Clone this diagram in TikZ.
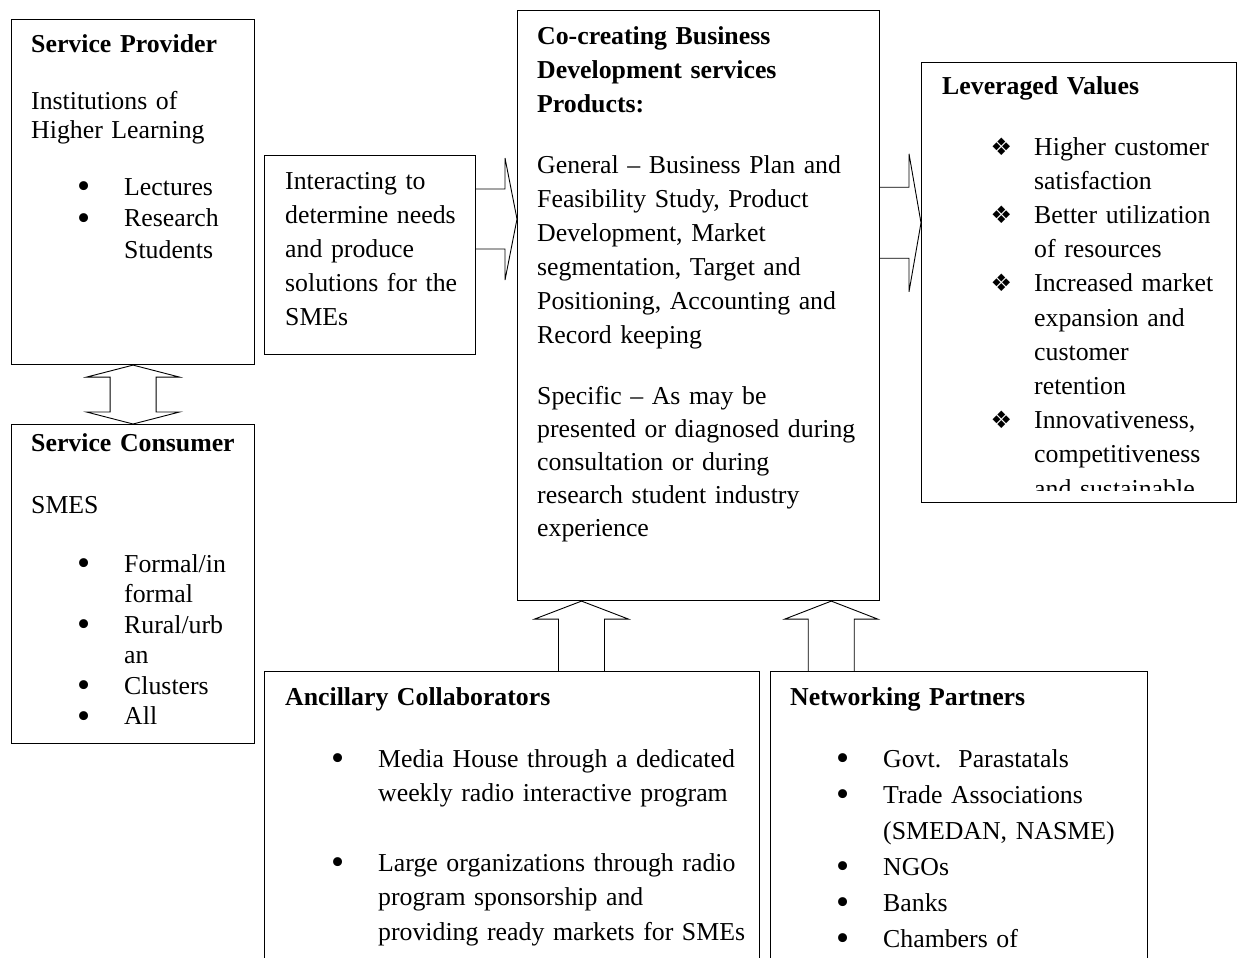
\documentclass[tikz,border=0pt]{standalone}
\usepackage{fontspec}
\setmainfont{Liberation Serif}
\newfontfamily\dingfont{DejaVu Sans}
\usetikzlibrary{calc}

\newcommand{\bul}{\leavevmode\llap{\raisebox{-3.8pt}{\scalebox{1.45}{\textbullet}}\hspace{34pt}}}
\newcommand{\dia}{\leavevmode\llap{{\dingfont\fontsize{24}{24}\selectfont ❖}\hspace{22pt}}}

% open block arrows: start on a box edge, tip on the other box
\newcommand{\blockright}[5]{%
  \draw[blockarrow] let \p1=#1, \p2=#2 in
    (\x1,\y1+#3pt) -- (\x2-#5pt,\y1+#3pt) -- (\x2-#5pt,\y1+#4pt) -- (\x2,\y1)
    -- (\x2-#5pt,\y1-#4pt) -- (\x2-#5pt,\y1-#3pt) -- (\x1,\y1-#3pt);}
\newcommand{\blockup}[5]{%
  \draw[blockarrow] let \p1=#1, \p2=#2 in
    (\x1-#3pt,\y1) -- (\x1-#3pt,\y2-#5pt) -- (\x1-#4pt,\y2-#5pt) -- (\x1,\y2)
    -- (\x1+#4pt,\y2-#5pt) -- (\x1+#3pt,\y2-#5pt) -- (\x1+#3pt,\y1);}
\newcommand{\blockboth}[5]{%
  \draw[blockarrow] let \p1=#1, \p2=#2 in
    (\x1,\y1) -- (\x1+#4pt,\y1-#5pt) -- (\x1+#3pt,\y1-#5pt) -- (\x1+#3pt,\y2+#5pt)
    -- (\x1+#4pt,\y2+#5pt) -- (\x1,\y2) -- (\x1-#4pt,\y2+#5pt) -- (\x1-#3pt,\y2+#5pt)
    -- (\x1-#3pt,\y1-#5pt) -- (\x1-#4pt,\y1-#5pt) -- cycle;}

\tikzset{
  box/.style={draw, line width=1.1pt, inner sep=0pt, anchor=north west},
  txt/.style={anchor=base west, inner sep=0pt, text width=420pt, align=left,
    font=\fontsize{25.8}{#1}\selectfont},
  txt/.default=34,
  head/.style={txt, font=\fontsize{25.8}{34}\selectfont\bfseries},
  blockarrow/.style={draw, line width=0.9pt, line join=miter},
}

\begin{document}
\begin{tikzpicture}[x=1pt, y=-1pt]
\clip (0,0) rectangle (1237,958);

% boxes
\node (provider) [box, minimum width=243pt, minimum height=345pt] at (11,19) {};
\node (consumer) [box, minimum width=243pt, minimum height=319pt] at (11,424) {};
\node (interact) [box, minimum width=211pt, minimum height=199pt] at (264,155) {};
\node (cocreate) [box, minimum width=362pt, minimum height=590pt] at (517,10) {};
\node (leverage) [box, minimum width=315pt, minimum height=440pt] at (921,62) {};
\node (ancillary) [box, minimum width=495pt, minimum height=330pt] at (264,671) {};
\node (network) [box, minimum width=377pt, minimum height=330pt] at (770,671) {};

% service provider
\node (provtitle) [head] at (31,53) {Service Provider};
\node (provtext) [txt=29.5] at (31,109) {Institutions of\\Higher Learning};
\node (provlist) [txt=31.5] at (124,195) {\bul Lectures\\\bul Research\\Students};

% service consumer
\node (constitle) [head] at (31,451) {Service Consumer};
\node (constext) [txt] at (31,513) {SMES};
\node (conslist) [txt=30.5] at (124,572) {\bul Formal/in\\formal\\\bul Rural/urb\\an\\\bul Clusters\\\bul All};

% interaction
\node (intertext) [txt=34.2] at (285,189) {Interacting to\\determine needs\\and produce\\solutions for the\\SMEs};

% products
\node (cotitle) [head] at (537,45) {Co-creating Business\\Development services\\Products:};
\node (cogeneral) [txt] at (537,173) {General -- Business Plan and\\Feasibility Study, Product\\Development, Market\\segmentation, Target and\\Positioning, Accounting and\\Record keeping};
\node (cospecific) [txt=33] at (537,404) {Specific -- As may be\\presented or diagnosed during\\consultation or during\\research student industry\\experience};

% leveraged values
\node (levtitle) [head] at (942,95) {Leveraged Values};
\begin{scope}
  \clip (921,62) rectangle (1237,490);
  \node (levlist) [txt=34.2] at (1034,155) {\dia Higher customer\\satisfaction\\\dia Better utilization\\of resources\\\dia Increased market\\expansion and\\customer\\retention\\\dia Innovativeness,\\competitiveness\\and sustainable};
\end{scope}

% ancillary collaborators
\node (anctitle) [head] at (285,705) {Ancillary Collaborators};
\node (anclist) [txt=34.7] at (378,767) {\bul Media House through a dedicated\\weekly radio interactive program\\[34.7pt]\bul Large organizations through radio\\program sponsorship and\\providing ready markets for SMEs};

% networking partners
\node (nettitle) [head] at (790,705) {Networking Partners};
\node (netlist) [txt=36] at (883,767) {\bul Govt.\ \ Parastatals\\\bul Trade Associations\\(SMEDAN, NASME)\\\bul NGOs\\\bul Banks\\\bul Chambers of};

% arrows
\blockboth{(provider.south)}{(consumer.north)}{23}{46.5}{12}
\blockright{($(interact.north east)!0.32!(interact.south east)$)}{(cocreate.west)}{30}{61}{12}
\blockright{($(cocreate.north east)!0.36!(cocreate.south east)$)}{(leverage.west)}{35.5}{69}{12}
\blockup{($(ancillary.north west)!0.64!(ancillary.north east)$)}{(cocreate.south)}{23}{47}{18}
\blockup{($(network.north west)!0.162!(network.north east)$)}{(cocreate.south)}{23}{46.5}{18}
\end{tikzpicture}
\end{document}
